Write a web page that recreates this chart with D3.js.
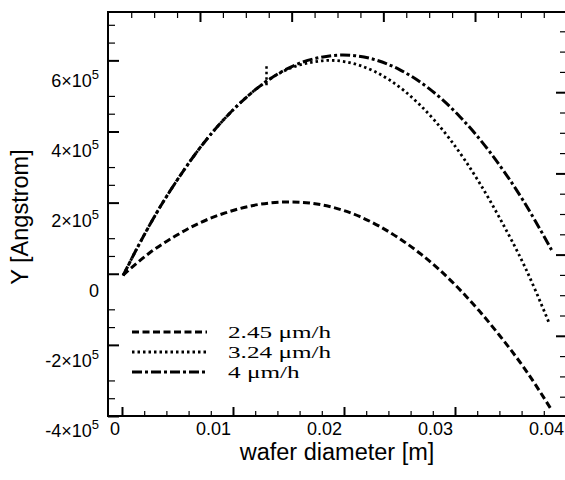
<!DOCTYPE html>
<html>
<head>
<meta charset="utf-8">
<script src="https://cdn.jsdelivr.net/npm/d3@7"></script>
<style>
  body { margin: 0; background: #fff; }
  svg { display: block; font-family: 'Liberation Sans', Arial, Helvetica, sans-serif; }
</style>
</head>
<body>
<svg id="chart" width="565" height="480"></svg>
<script>
// tick values
const xTicks = [0, 0.01, 0.02, 0.03, 0.04];
const yTicks = [-400000, -200000, 0, 200000, 400000, 600000];
const yMinor = [-350000, -300000, -150000, -100000, 50000, 100000, 250000, 300000, 450000, 500000, 650000, 700000];

const seriesNums = ['2.45', '3.24', '4'];
const unitLabel = '\u03bcm/h';

// 2.45 um/h
const diam245 = [0.0001, 0.0025, 0.0048, 0.007, 0.0093, 0.0115, 0.0133, 0.0151, 0.0169, 0.0187, 0.0214, 0.025, 0.0286, 0.0322, 0.034, 0.0363, 0.0386];
const thick245 = [-4000, 59000, 106000, 143000, 171000, 190000, 199000, 202000, 199000, 189000, 161000, 99000, 11000, -105000, -173000, -268000, -378000];

// 3.24 um/h
const diam324 = [0.0001, 0.0016, 0.0034, 0.0052, 0.007, 0.0097, 0.0124, 0.0142, 0.016, 0.0174, 0.0187, 0.0214, 0.0241, 0.0268, 0.0295, 0.0322, 0.034, 0.0363, 0.0385];
const thick324 = [-5000, 86000, 186000, 274000, 353000, 451000, 527000, 564000, 587000, 596000, 600000, 586000, 545000, 476000, 380000, 256000, 158000, 19000, -140000];
// short vertical glitch on the 3.24 curve
const spikeX = [0.01302, 0.01302];
const spikeY = [530000, 584000];

// 4 um/h
const diam4 = [0.0001, 0.0016, 0.0034, 0.0052, 0.007, 0.0097, 0.0124, 0.016, 0.0178, 0.0199, 0.0223, 0.025, 0.0277, 0.0304, 0.0331, 0.0361, 0.0387];
const thick4 = [-5000, 86000, 186000, 274000, 353000, 451000, 527000, 592000, 608000, 615000, 606000, 574000, 520000, 443000, 344000, 208000, 67000];

const svg = d3.select('#chart');

const mLeft = 108, mRight = 566, mTop = 12, mBottom = 416;

const x = d3.scaleLinear().domain([-0.00126, 0.04]).range([mLeft, mRight]);
const y = d3.scaleLinear().domain([-400000, 736000]).range([mBottom, mTop]);

// mirror scales for the frame ticks on top / right
const xTop = d3.scaleLinear().domain([0, 5]).range([108.3, 566.7]);
const yRight = d3.scaleLinear().domain([0, 5]).range([417, 11]);

function noDomain(g) { g.select('.domain').remove(); }

function ticks(axis, tx, ty, w) {
    svg.append('g')
        .attr('transform', `translate(${tx},${ty})`)
        .call(axis.tickFormat(''))
        .call(noDomain)
        .selectAll('line')
        .attr('stroke', '#000')
        .attr('stroke-width', w);
}

// left
ticks(d3.axisLeft(y).tickValues(yTicks).tickSize(-11), mLeft, 0, 2);
ticks(d3.axisLeft(y).tickValues(yMinor).tickSize(-7), mLeft, 0, 1.2);
// bottom
const xMinor = d3.range(1, 20).filter(i => i % 5 !== 0).map(i => i * 0.002);
ticks(d3.axisBottom(x).tickValues(xTicks).tickSize(-9), 0, mBottom, 2);
ticks(d3.axisBottom(x).tickValues(xMinor).tickSize(-5), 0, mBottom, 1.2);
// top
ticks(d3.axisTop(xTop).tickValues([1, 2, 3, 4]).tickSize(-10), 0, mTop, 2);
ticks(d3.axisTop(xTop).tickValues(d3.range(1, 20).filter(i => i % 4 !== 0).map(i => i * 0.25)).tickSize(-6), 0, mTop, 1.2);
// right
ticks(d3.axisRight(yRight).tickValues([1, 2, 3, 4]).tickSize(-9), 565, 0, 2);
ticks(d3.axisRight(yRight).tickValues(d3.range(1, 20).filter(i => i % 4 !== 0).map(i => i * 0.25)).tickSize(-5), 565, 0, 1.2);

// frame
svg.append('rect')
    .attr('x', mLeft).attr('y', mTop)
    .attr('width', mRight - mLeft).attr('height', mBottom - mTop)
    .attr('fill', 'none')
    .attr('stroke', '#000')
    .attr('stroke-width', 2);

// x tick labels (right aligned on the ticks)
svg.append('g')
    .selectAll('text')
    .data(xTicks)
    .join('text')
    .attr('x', d => x(d) - 2)
    .attr('y', 435)
    .attr('text-anchor', 'end')
    .attr('font-size', 18)
    .text(d => d === 0 ? '0' : d3.format('.2f')(d));

// y tick labels sit a bit below their ticks in the original
const yLab = d3.scaleLinear().domain([-400000, 600000]).range([437, 87]);
const yl = svg.append('g')
    .selectAll('text')
    .data(yTicks)
    .join('text')
    .attr('x', 99)
    .attr('y', d => yLab(d))
    .attr('text-anchor', 'end')
    .attr('font-size', 18);
yl.each(function (d) {
    const t = d3.select(this);
    if (d === 0) { t.text('0'); return; }
    t.append('tspan').text((d / 1e5) + '\u00d710');
    t.append('tspan').attr('dy', -8).attr('font-size', 13).text('5');
});

// axis titles
svg.append('text')
    .attr('x', 337).attr('y', 460)
    .attr('text-anchor', 'middle')
    .attr('font-size', 23.5)
    .text('wafer diameter [m]');

svg.append('text')
    .attr('transform', 'translate(28,217) rotate(-90)')
    .attr('text-anchor', 'middle')
    .attr('font-size', 23.5)
    .text('Y [Angstrom]');

// curves
const series = [
    { xs: diam245, ys: thick245, dash: '7,3.5', w: 3 },
    { xs: diam324, ys: thick324, dash: '2.5,3', w: 2.8 },
    { xs: diam4, ys: thick4, dash: '10,3,3,3', w: 3 }
];

const line = d3.line()
    .x(d => x(d[0]))
    .y(d => y(d[1]))
    .curve(d3.curveMonotoneX);

svg.append('g')
    .selectAll('path')
    .data(series)
    .join('path')
    .attr('d', s => line(s.xs.map((v, i) => [v, s.ys[i]])))
    .attr('fill', 'none')
    .attr('stroke', '#000')
    .attr('stroke-width', s => s.w)
    .attr('stroke-dasharray', s => s.dash);

svg.append('path')
    .attr('d', d3.line().x(d => x(d[0])).y(d => y(d[1]))(spikeX.map((v, i) => [v, spikeY[i]])))
    .attr('fill', 'none')
    .attr('stroke', '#000')
    .attr('stroke-width', 2.5)
    .attr('stroke-dasharray', '2.5,3');

// legend
const lg = svg.append('g');
series.forEach((s, i) => {
    const ly = 332 + i * 20;
    lg.append('line')
        .attr('x1', 132).attr('x2', 207)
        .attr('y1', ly).attr('y2', ly)
        .attr('stroke', '#000')
        .attr('stroke-width', s.w)
        .attr('stroke-dasharray', s.dash);
    lg.append('text')
        .attr('transform', `translate(228,${ly + 6}) scale(1.44,1)`)
        .attr('font-family', "'Liberation Serif', 'Times New Roman', serif")
        .attr('font-size', 17.5)
        .text(seriesNums[i] + ' ' + unitLabel);
});
</script>
</body>
</html>
